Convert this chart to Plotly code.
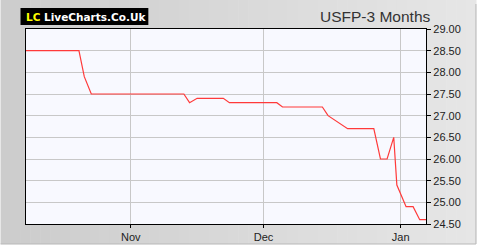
import plotly.graph_objects as go

# ---- data ----
dates = [
    "2023-10-08 08:00", "2023-10-20 07:00", "2023-10-21 12:00", "2023-10-23 02:00",
    "2023-11-13 00:00", "2023-11-14 07:00", "2023-11-16 00:00", "2023-11-21 22:00",
    "2023-11-23 07:00", "2023-12-04 00:00", "2023-12-05 07:00", "2023-12-14 07:00",
    "2023-12-15 14:00", "2023-12-20 00:00", "2023-12-25 22:00", "2023-12-27 10:00",
    "2023-12-28 22:00", "2023-12-30 10:00", "2023-12-31 03:00", "2024-01-02 05:00",
    "2024-01-03 19:00", "2024-01-05 07:00", "2024-01-06 17:00",
]
prices = [
    28.5, 28.5, 27.9, 27.5,
    27.5, 27.3, 27.4, 27.4,
    27.3, 27.3, 27.2, 27.2,
    27.0, 26.7, 26.7, 26.0,
    26.0, 26.5, 25.4, 24.9,
    24.9, 24.6, 24.6,
]
y_ticks = [24.5, 25.0, 25.5, 26.0, 26.5, 27.0, 27.5, 28.0, 28.5, 29.0]
x_ticks = ["2023-11-01", "2023-12-01", "2024-01-01"]
x_tick_labels = ["Nov", "Dec", "Jan"]
title_text = "USFP-3 Months"

# ---- geometry (pixels) ----
W, H = 480, 250
L, R, T, B = 25.5, 54, 29, 26
PW, PH = W - L - R, H - T - B

def px(x):
    return (x - L) / PW

def py(y):
    return (H - B - y) / PH

fig = go.Figure()
fig.add_trace(go.Scatter(
    x=dates, y=prices, mode="lines",
    line=dict(color="#ff3a3a", width=1.2),
    hoverinfo="skip", showlegend=False,
))

shapes = []
# gradient background frame
n = 48
c0, c1 = (0xcc, 0xcc, 0xcc), (0xe6, 0xe6, 0xe6)
fw, fh = 476, 244
for i in range(n):
    t = i / (n - 1)
    c = tuple(int(round(a + (b - a) * t)) for a, b in zip(c0, c1))
    col = "rgb(%d,%d,%d)" % c
    shapes.append(dict(type="rect", xref="paper", yref="paper",
                       x0=px(fw * i / n), x1=px(fw * (i + 1) / n + 0.6),
                       y0=py(fh), y1=py(0), fillcolor=col, line=dict(width=0),
                       layer="below"))
# frame edge
shapes.append(dict(type="line", xref="paper", yref="paper",
                   x0=px(476), x1=px(476), y0=py(4), y1=py(244),
                   line=dict(color="#b8b8b8", width=1), layer="below"))
shapes.append(dict(type="line", xref="paper", yref="paper",
                   x0=px(0), x1=px(476), y0=py(244), y1=py(244),
                   line=dict(color="#b8b8b8", width=1), layer="below"))
# plot area background
shapes.append(dict(type="rect", xref="paper", yref="paper",
                   x0=0, x1=1, y0=0, y1=1, fillcolor="#f8f9ff",
                   line=dict(width=0), layer="below"))
# logo box
shapes.append(dict(type="rect", xref="paper", yref="paper",
                   x0=px(20), x1=px(148), y0=py(25), y1=py(8),
                   fillcolor="#000000", line=dict(width=0), layer="above"))

annotations = [
    dict(xref="paper", yref="paper", x=px(23.5), y=py(16.8),
         xanchor="left", yanchor="middle", showarrow=False,
         text="<b><span style='color:#ffff00'>LC</span> LiveCharts.Co.Uk</b>",
         font=dict(family="DejaVu Sans", size=10.5, color="#ffffff")),
    dict(xref="paper", yref="paper", x=px(433.5), y=py(16.5),
         xanchor="right", yanchor="middle", showarrow=False,
         text=title_text,
         font=dict(family="Liberation Sans, Arial", size=15.5, color="#333333")),
]

fig.update_layout(
    width=W, height=H, autosize=False,
    margin=dict(l=L, r=R, t=T, b=B, pad=0, autoexpand=False),
    paper_bgcolor="#ffffff", plot_bgcolor="rgba(0,0,0,0)",
    shapes=shapes, annotations=annotations,
    font=dict(family="Liberation Sans, Arial", size=11, color="#222222"),
    xaxis=dict(
        type="date", automargin=False,
        range=["2023-10-08 08:00", "2024-01-06 17:00"],
        tickvals=x_ticks, ticktext=x_tick_labels,
        showgrid=True, gridcolor="#c8c8c8", gridwidth=1,
        showline=True, linecolor="#000000", linewidth=1.2, mirror=True,
        ticks="outside", ticklen=3, tickcolor="#000000",
        zeroline=False, fixedrange=True,
    ),
    yaxis=dict(
        side="right", range=[24.5, 29.0], automargin=False,
        tickvals=y_ticks, ticktext=["%.2f" % v for v in y_ticks],
        showgrid=True, gridcolor="#c8c8c8", gridwidth=1,
        showline=True, linecolor="#000000", linewidth=1.2, mirror=True,
        ticks="outside", ticklen=4, tickcolor="#000000",
        zeroline=False, fixedrange=True,
    ),
)

fig.write_html("out.html", config={"displayModeBar": False})
